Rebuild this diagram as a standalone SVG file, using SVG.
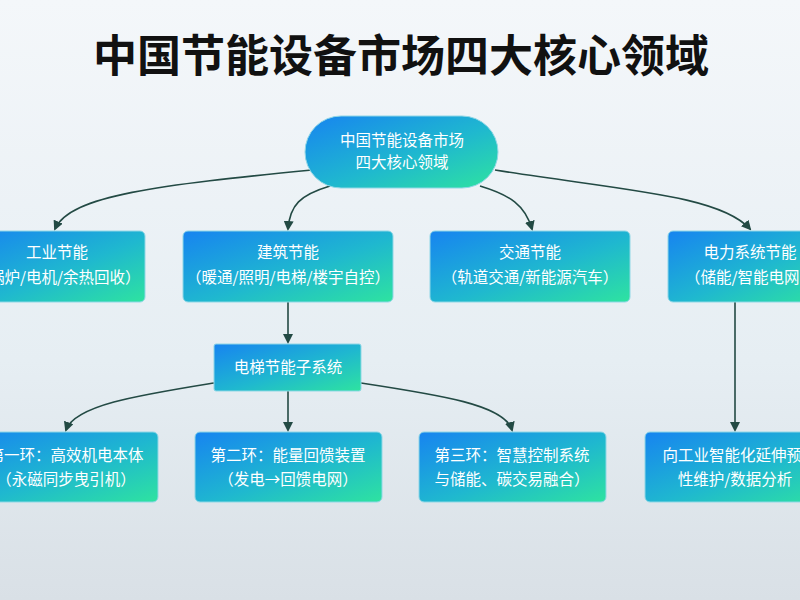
<svg xmlns="http://www.w3.org/2000/svg" width="800" height="600" viewBox="0 0 800 600">
<defs>
<linearGradient id="bg" x1="0" y1="0" x2="0" y2="1"><stop offset="0" stop-color="#f4f7fa"/><stop offset="0.6" stop-color="#e6eef3"/><stop offset="1" stop-color="#d9e0e6"/></linearGradient>
<linearGradient id="g" x1="0" y1="0" x2="1" y2="1"><stop offset="0" stop-color="#1784f0"/><stop offset="0.55" stop-color="#1fb8cf"/><stop offset="1" stop-color="#2ee3a0"/></linearGradient>
<marker id="a" markerWidth="10" markerHeight="10" refX="8" refY="5" orient="auto" markerUnits="userSpaceOnUse"><path d="M0,0 L10,5 L0,10 Z" fill="#234a44"/></marker>
</defs>
<style>
.n{fill:url(#g);stroke:#8fd7e6;stroke-width:1}
.t{font-family:"Noto Sans CJK SC","Noto Sans",sans-serif;fill:#fff;font-size:15.5px;text-anchor:middle}
.c{fill:none;stroke:#234a44;stroke-width:1.6;marker-end:url(#a)}
</style>
<rect width="800" height="600" fill="url(#bg)"/>
<text x="401" y="72" font-family="'Noto Sans CJK SC',sans-serif" font-size="44" font-weight="bold" text-anchor="middle" fill="#111">中国节能设备市场四大核心领域</text>
<g id="connectors">
<path class="c" d="M312,170 C160,185 70,195 55,229"/>
<path class="c" d="M330,186 C300,195 290,205 288,229"/>
<path class="c" d="M480,186 C510,195 525,205 532,229"/>
<path class="c" d="M495,170 C620,190 720,195 750,229"/>
<path class="c" d="M288,302 L288,342"/>
<path class="c" d="M214,383 C140,395 75,405 66,430"/>
<path class="c" d="M288,391 L288,430"/>
<path class="c" d="M361,383 C440,395 505,405 512,430"/>
<path class="c" d="M735,302 L735,430"/>
</g>
<g id="root"><rect class="n" x="305" y="116" width="193" height="72" rx="36"/><text class="t" x="402" y="146">中国节能设备市场</text><text class="t" x="402" y="168">四大核心领域</text></g>
<g id="n1"><rect class="n" x="-30" y="231" width="175" height="71" rx="5"/><text class="t" x="57" y="258">工业节能</text><text class="t" x="57" y="283">（锅炉/电机/余热回收）</text></g>
<g id="n2"><rect class="n" x="183" y="231" width="210" height="71" rx="5"/><text class="t" x="288" y="258">建筑节能</text><text class="t" x="288" y="283">（暖通/照明/电梯/楼宇自控）</text></g>
<g id="n3"><rect class="n" x="430" y="231" width="200" height="71" rx="5"/><text class="t" x="530" y="258">交通节能</text><text class="t" x="530" y="283">（轨道交通/新能源汽车）</text></g>
<g id="n4"><rect class="n" x="668" y="231" width="160" height="71" rx="5"/><text class="t" x="750" y="258">电力系统节能</text><text class="t" x="750" y="283">（储能/智能电网）</text></g>
<g id="n5"><rect class="n" x="214" y="344" width="147" height="47" rx="2"/><text class="t" x="288" y="373">电梯节能子系统</text></g>
<g id="n6"><rect class="n" x="-40" y="432" width="198" height="70" rx="5"/><text class="t" x="66" y="461">第一环：高效机电本体</text><text class="t" x="66" y="485">（永磁同步曳引机）</text></g>
<g id="n7"><rect class="n" x="195" y="432" width="187" height="70" rx="5"/><text class="t" x="288" y="461">第二环：能量回馈装置</text><text class="t" x="288" y="485">（发电→回馈电网）</text></g>
<g id="n8"><rect class="n" x="419" y="432" width="187" height="70" rx="5"/><text class="t" x="512" y="461">第三环：智慧控制系统</text><text class="t" x="512" y="485">与储能、碳交易融合）</text></g>
<g id="n9"><rect class="n" x="645" y="432" width="190" height="70" rx="5"/><text class="t" x="740" y="461">向工业智能化延伸预测</text><text class="t" x="735" y="485">性维护/数据分析</text></g>
</svg>
